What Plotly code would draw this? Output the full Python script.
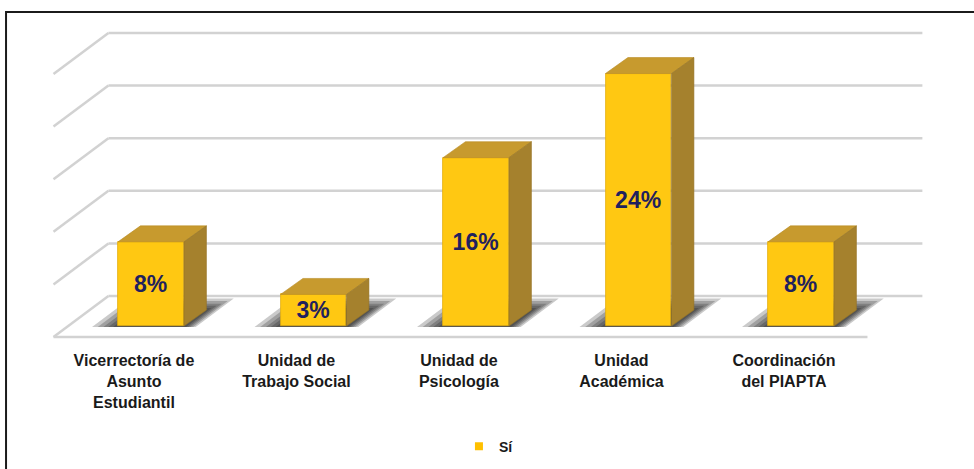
import plotly.graph_objects as go

# ---------------- data ----------------
categories = [
    "Vicerrectoría de<br>Asunto<br>Estudiantil",
    "Unidad de<br>Trabajo Social",
    "Unidad de<br>Psicología",
    "Unidad<br>Académica",
    "Coordinación<br>del PIAPTA",
]
values = [8, 3, 16, 24, 8]          # percent
value_labels = ["8%", "3%", "16%", "24%", "8%"]
grid_ticks = [0, 5, 10, 15, 20, 25]
series_name = "Sí"

# ---------------- style / geometry constants ----------------
FONT = "Liberation Sans, Arial, sans-serif"
FRONT_COL = "#FFC812"
FRONT_EDGE = "#E2AC0C"
TOP_COL = "#C79A2E"
SIDE_COL = "#A5812D"
TEXT_COL = "#1F215E"
GRID_COL = "#D2D2D2"

BAR_W = 0.406            # bar width in category units
BAR_DU, BAR_DV = 0.138, 1.52    # bar depth offset (x units, value units)
WALL_DU, WALL_DV = 0.338, 3.90  # full floor depth offset
FLOOR_V = -1.046         # front floor edge relative to bar base
FLOOR_U0, FLOOR_U1 = -0.60, 4.409
LABEL_SHIFT = -0.105

n = len(values)
xs = list(range(n))
hw = BAR_W / 2

fig = go.Figure()

shapes = []
# back wall gridlines + left wall diagonals
for t in grid_ticks:
    vb = FLOOR_V + WALL_DV + t
    vf = FLOOR_V + t
    shapes.append(dict(type="line", xref="x", yref="y", layer="below",
                       x0=FLOOR_U0 + WALL_DU, y0=vb, x1=FLOOR_U1 + WALL_DU, y1=vb,
                       line=dict(color=GRID_COL, width=2.5)))
    shapes.append(dict(type="line", xref="x", yref="y", layer="below",
                       x0=FLOOR_U0, y0=vf, x1=FLOOR_U0 + WALL_DU, y1=vb,
                       line=dict(color=GRID_COL, width=2.5)))
# front floor edge
shapes.append(dict(type="line", xref="x", yref="y", layer="below",
                   x0=FLOOR_U0, y0=FLOOR_V, x1=FLOOR_U1, y1=FLOOR_V,
                   line=dict(color=GRID_COL, width=2.5)))

# soft shadows on the floor behind each bar (layered for a blur look)
for i in xs:
    for eu, ev in [(0.16, 1.1), (0.125, 0.85), (0.09, 0.6), (0.06, 0.4), (0.03, 0.2)]:
        l, r = i - hw - eu, i + hw + eu * 0.45
        path = (f"M {l},{-0.1} L {r},{-0.1} "
                f"L {r + BAR_DU + eu * 0.6},{BAR_DV + ev} "
                f"L {l + BAR_DU + eu * 0.6},{BAR_DV + ev} Z")
        shapes.append(dict(type="path", xref="x", yref="y", layer="below",
                           path=path, fillcolor="rgba(15,15,15,0.22)",
                           line=dict(width=0)))

# border frame
shapes.append(dict(type="path", xref="paper", yref="paper",
                   path="M 0.0062,-0.5 L 0.0062,1.0 L 1.02,1.0",
                   line=dict(color="#1b1b1b", width=2)))

# 3D faces (top + side) computed from the values
for i, v in zip(xs, values):
    top_x = [i - hw, i + hw, i + hw + BAR_DU, i - hw + BAR_DU, i - hw]
    top_y = [v, v, v + BAR_DV, v + BAR_DV, v]
    fig.add_trace(go.Scatter(x=top_x, y=top_y, fill="toself", mode="lines",
                             fillcolor=TOP_COL, line=dict(color="#B88C25", width=0.6),
                             hoverinfo="skip", showlegend=False))
    side_x = [i + hw, i + hw, i + hw + BAR_DU, i + hw + BAR_DU, i + hw]
    side_y = [0, v, v + BAR_DV, BAR_DV, 0]
    fig.add_trace(go.Scatter(x=side_x, y=side_y, fill="toself", mode="lines",
                             fillcolor=SIDE_COL, line=dict(color="#967425", width=0.6),
                             hoverinfo="skip", showlegend=False))

# front faces
fig.add_trace(go.Bar(
    x=xs, y=values, width=BAR_W, name=series_name,
    marker=dict(color=FRONT_COL, line=dict(color=FRONT_EDGE, width=0.8)),
    text=value_labels, textposition="inside", insidetextanchor="middle",
    constraintext="none",
    textfont=dict(family=FONT, size=23, color=TEXT_COL, weight="bold"),
    showlegend=False, hoverinfo="skip",
))

# legend entry
fig.add_trace(go.Scatter(x=[None], y=[None], mode="markers", name=series_name,
                         marker=dict(symbol="square", size=8, color="#FFC000"),
                         showlegend=True))

fig.update_layout(
    width=974, height=469,
    margin=dict(l=0, r=0, t=12, b=129),
    paper_bgcolor="white", plot_bgcolor="white",
    shapes=shapes,
    showlegend=True,
    legend=dict(orientation="h", x=0.502, xanchor="center", y=-0.325, yanchor="middle",
                font=dict(family=FONT, size=14, color="#1a1a1a", weight="bold"),
                bgcolor="rgba(0,0,0,0)", itemwidth=30),
    xaxis=dict(range=[-151 / 162.5, (974 - 151) / 162.5],
               tickvals=[i + LABEL_SHIFT for i in xs], ticktext=categories,
               tickfont=dict(family=FONT, size=16, color="#1a1a1a", weight="bold"),
               ticklabelstandoff=9,
               showgrid=False, zeroline=False, showline=False, ticks="",
               fixedrange=True),
    yaxis=dict(range=[(326 - 340) / 10.52, (326 - 12) / 10.52], visible=False,
               showgrid=False, zeroline=False, fixedrange=True),
    bargap=0,
)

fig.write_html("out.html", config={"displayModeBar": False},
               post_script="document.body.style.margin='0';")
